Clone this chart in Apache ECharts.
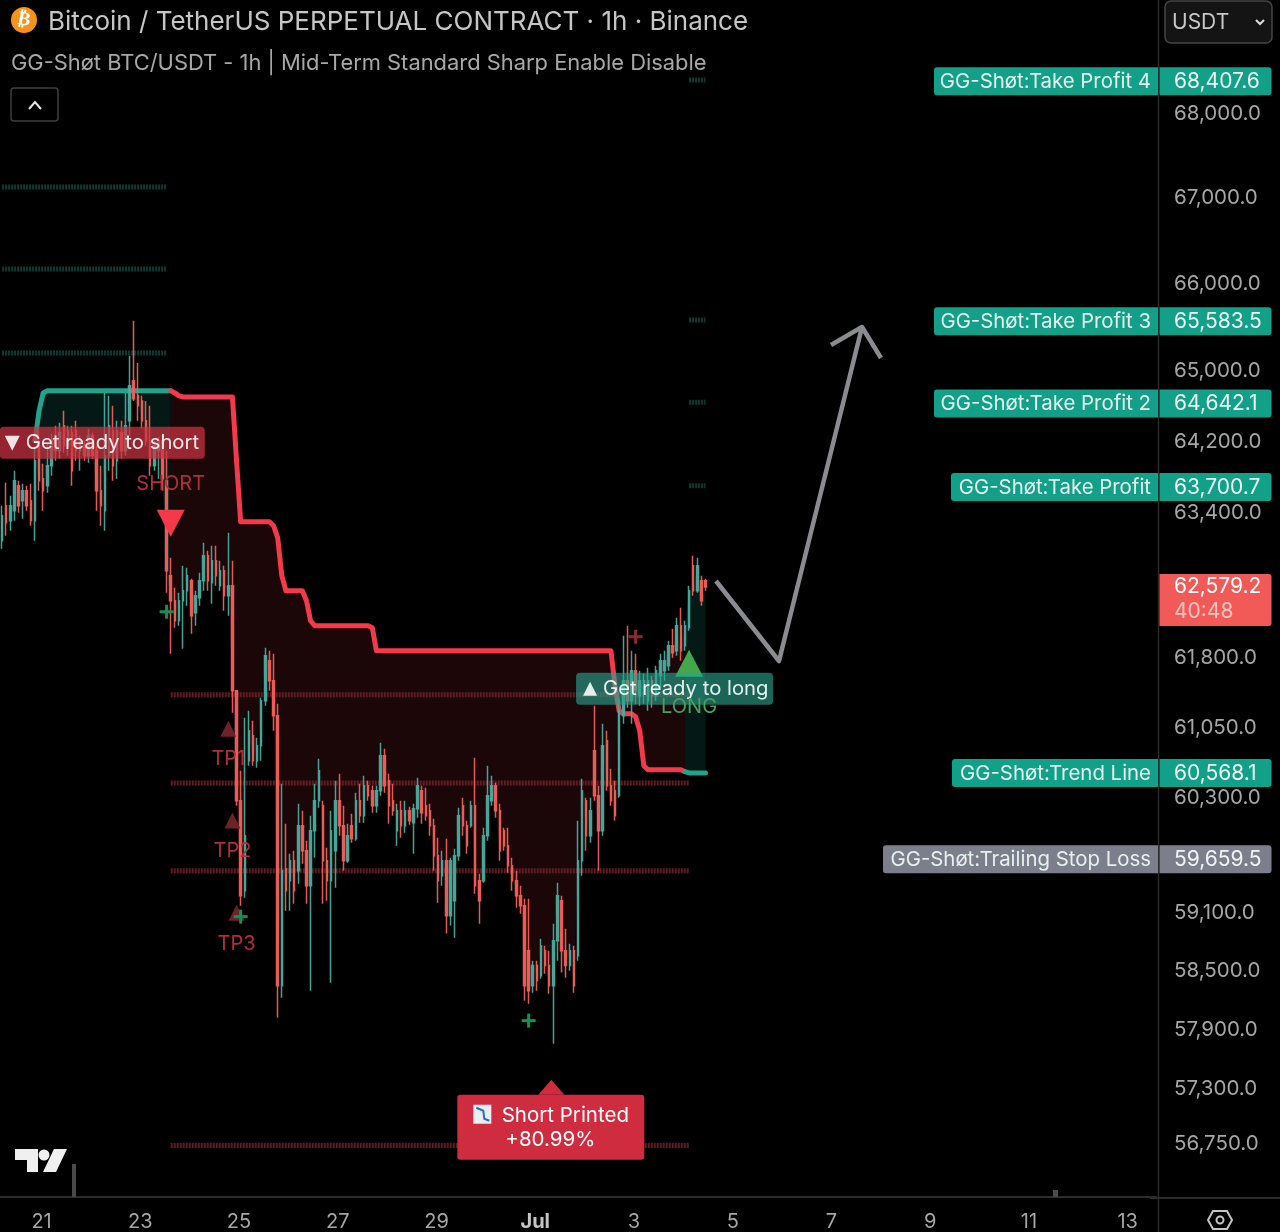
<!DOCTYPE html>
<html><head><meta charset="utf-8">
<style>html,body{margin:0;padding:0;background:#000}#c{width:1280px;height:1232px}</style>
<script src="https://cdn.jsdelivr.net/npm/echarts@6/dist/echarts.min.js"></script>
</head><body><div id="c"></div>
<script>
// ---------- data ----------
const dayTicks = ['21','23','25','27','29','Jul','3','5','7','9','11','13'];
const priceTicks = [68000,67000,66000,65000,64200,63400,61800,61050,60300,59100,58500,57900,57300,56750];
const tagNames = ['GG-Shøt:Take Profit 4','GG-Shøt:Take Profit 3','GG-Shøt:Take Profit 2','GG-Shøt:Take Profit','GG-Shøt:Trend Line','GG-Shøt:Trailing Stop Loss'];
const tagValues = [68407.6,65583.5,64642.1,63700.7,60568.1,59659.5];
const lastPrice = 62579.2;
const countdown = '40:48';
const greenLevels = [67134,66174,65205];
const redLevels = [61405,60461,59535,56730];
const targetLevels = [68407.6,65583.5,64642.1,63700.7];
// [open, close, low, high]
const candles = [
[63089,63367,63000,63478],[63478,63289,63145,63734],[63311,63478,63200,63589],[63422,63757,63311,63869],
[63701,63478,63400,63757],[63533,63645,63333,63723],[63645,63478,63422,63701],[63533,63311,63255,63723],
[63311,63981,63089,64127],[64150,63757,63645,64320],[63779,63645,63422,63947],[63701,63925,63623,64173],
[63925,64207,63813,64286],[64207,64093,63981,64376],[64093,64297,64003,64410],[64376,64150,64071,64545],
[64150,64320,64037,64376],[64297,63869,63701,64376],[64320,64093,63981,64432],[64093,64207,63869,64263],
[64150,64037,63981,64207],[64037,64263,63959,64342],[64263,64037,64003,64297],[64093,63645,63422,64150],
[63645,63478,63255,63925],[63422,64037,63200,64749],[64037,64376,63869,64715],[64320,63925,63757,64602],
[63981,64320,63779,64432],[64297,64093,64003,64432],[64093,64376,64037,64749],[64432,64829,64263,65171],
[64886,64681,64658,65574],[64715,64602,64432,65091],[64658,64432,64342,64715],[64432,64207,64150,64658],
[64207,63925,63813,64602],[63925,64150,63869,64207],[64093,64207,63779,64252],[64207,63779,63645,64263],
[63757,62758,62515,64093],[62703,62427,61848,62901],[62427,62209,62133,62570],[62209,62427,62154,62515],
[62427,62537,61903,62813],[62537,62703,62372,62791],[62648,62263,62067,62670],[62296,62482,62154,62537],
[62460,62648,62372,62736],[62648,62923,62537,63067],[62923,62648,62537,62978],[62626,62868,62394,63034],
[62868,62703,62593,63034],[62593,62758,62537,62868],[62758,62482,62318,62813],[62482,62593,62263,63178],
[62593,61448,61212,62868],[61448,60273,60220,61448],[60273,59275,59172,60592],[59327,59904,59254,61157],
[60698,61018,60645,61233],[60965,60698,60645,61125],[60698,60857,60624,60943],[60857,61340,60698,61372],
[61340,61827,61286,61914],[61773,61556,61448,61881],[61556,61179,61018,61848],[61179,58346,58019,61308],
[58346,59536,58223,60453],[59557,59327,59120,60030],[59432,59641,59120,59714],[59641,59327,59192,59745],
[59536,60009,59400,60241],[60009,59745,59610,60167],[59745,59380,59192,59851],[59380,59956,58295,60115],
[59956,60273,59672,60453],[60273,60592,60199,60719],[60220,59641,59192,60273],[59641,59432,59223,59777],
[59432,59956,58377,60167],[59745,60273,59359,60485],[60273,60009,59904,60560],[60009,59641,59536,60220],
[59641,59904,59620,60030],[60009,59872,59830,60135],[59872,60273,59851,60358],[60273,60115,60041,60453],
[60115,60432,60041,60538],[60432,60326,60273,60485],[60379,60220,60146,60432],[60220,60379,60146,60432],
[60379,60751,60326,60889],[60751,60432,60358,60825],[60485,60220,60030,60560],[60273,60167,60115,60453],
[59956,60167,59798,60241],[60167,60009,59883,60273],[60009,60167,59935,60273],[60167,60062,60020,60209],
[60041,60188,59714,60241],[60188,60432,60094,60517],[60379,60146,60030,60432],[60220,60115,60062,60411],
[60167,60009,59904,60241],[60009,59693,59536,60083],[59693,59432,59202,59883],[59484,59641,59380,59745],
[59641,59068,58882,59872],[59068,59641,58965,59672],[59223,59693,58840,59766],[59693,60115,59641,60199],
[60220,60009,59904,60305],[60009,59798,59714,60062],[60009,60220,59988,60273],[60220,59380,59296,60730],
[59432,59223,58985,59505],[59432,59904,59411,59988],[59904,60326,59851,60645],[60273,60432,60220,60538],
[60432,60167,60094,60464],[60167,59745,59641,60241],[59956,59798,59745,59988],[59798,59589,59515,59988],
[59589,59432,59327,59672],[59432,59275,59151,59536],[59275,59172,59089,59380],[59172,58346,58192,59244],
[58706,58295,58161,59244],[58346,58552,58274,58603],[58552,58398,58295,58603],[58449,58758,58418,58830],
[58706,58552,58469,58758],[58552,58346,58264,58706],[58346,58809,57755,58985],[58809,59275,58603,59411],
[59223,58706,58480,59275],[58706,58552,58428,58933],[58552,58706,58500,58778],[58706,58346,58274,58758],
[58654,59641,58603,60062],[59641,60379,59484,60506],[60273,59904,59745,60305],[59904,60167,59830,60305],
[60804,60326,60273,61286],[60326,59956,59536,60432],[59956,60857,59904,61093],[60911,60432,60379,61018],
[60432,60273,60220,60613],[60379,60115,60062,60485],[60326,61233,60305,61372],[61179,61556,61093,62045],
[61556,61340,61265,62154],[61340,61665,61093,61881],[61665,61448,61308,61848],[61394,61556,61286,61665],
[61448,61556,61308,61632],[61340,61556,61233,61697],[61556,61394,61265,61610],[61394,61665,61340,61719],
[61610,61773,61480,61848],[61665,61773,61556,61881],[61719,61936,61665,61990],[61936,61859,61805,62122],
[61881,62154,61827,62242],[62154,61881,61773,62351],[61936,62154,61881,62209],[62133,62537,62100,62593],
[62813,62537,62482,62923],[62537,62813,62515,62901],[62648,62427,62372,62703],[62648,62579,62537,62670]
];
const trendLine = [null,null,null,null,null,null,null,null,
64207,64545,64749,64772,64772,64772,64772,64772,64772,64772,64772,64772,
64772,64772,64772,64772,64772,64772,64772,64772,64772,64772,64772,64772,
64772,64772,64772,64772,64772,64772,64772,64772,64772,64772,64749,64715,
64703,64703,64703,64703,64703,64703,64703,64703,64703,64703,64703,64703,
64703,63981,63299,63299,63299,63299,63299,63299,63299,63299,63255,63123,
62703,62537,62537,62537,62537,62537,62427,62209,62154,62154,62154,62154,
62154,62154,62154,62154,62154,62154,62154,62154,62154,62154,62133,61881,
61881,61881,61881,61881,61881,61881,61881,61881,61881,61881,61881,61881,
61881,61881,61881,61881,61881,61881,61881,61881,61881,61881,61881,61881,
61881,61881,61881,61881,61881,61881,61881,61881,61881,61881,61881,61881,
61881,61881,61881,61881,61881,61881,61881,61881,61881,61881,61881,61881,
61881,61881,61881,61881,61881,61881,61881,61881,61881,
61502,61233,61200,61200,61200,61168,61018,60645,60602,60602,60602,
60602,60602,60602,60602,60602,60602,60581,60568,60568,60568,60568,60568];
const shortLabelPrice = 64184, shortLabelIdx = 50;
const longLabelPrice = 61470, longLabelIdx = 167;
const printedPrice = 57380, printedIdx = 134;
const signalTexts = [['SHORT',41,63723],['TP1',55,60719],['TP2',56,59745],['TP3',57,58778],['LONG',167,61276]];
const signalTriangles = [['down',41,63289],['tp',55,61029],['tp',56,60052],['tp',57,59088],['up',167,61741]];
const crossMarks = [['g',40,62307],['g',58,59058],['g',128,57989],['r',154,62034]];

// ---------- style ----------
const FONT = 'Inter';
const UP='#4aaa9d', DOWN='#ee605b', TEAL='#1fa38c', RED='#f23a4a';
const CAT_COUNT = 281;
const categories = Array.from({length:CAT_COUNT},(_,i)=>{
  const k=(i-9)/24; return Number.isInteger(k)&&dayTicks[k]?dayTicks[k]:'';
});
const fmt = v => v.toLocaleString('en-US',{minimumFractionDigits:1,maximumFractionDigits:1});
const tagLefts = [934,934,934,951,952,883];
const series = [];
const levelLine = (a,b,v,color)=>({type:'line',data:[[a,v],[b,v]],symbol:'none',silent:true,z:1,
  lineStyle:{color,width:5,type:[2,1],cap:'butt'},animation:false});

// fills
const bands=[[8,41,'#041916'],[41,166,'#1b0608'],[166,171,'#041916']];
series.push({type:'custom',z:0,silent:true,data:bands.map((b,i)=>[i,60000]),
  renderItem(p,api){
    const [a,b,col]=bands[p.dataIndex]; const pts=[];
    for(let i=a;i<=b;i++) pts.push(api.coord([i,trendLine[i]]));
    for(let i=b;i>=a;i--) pts.push(api.coord([i,candles[i][1]]));
    return {type:'polygon',shape:{points:pts},style:{fill:col}};
  }});
// dotted levels
greenLevels.forEach(v=>series.push(levelLine(0,40,v,'#0d3a33')));
redLevels.forEach(v=>series.push(levelLine(41,167,v,'#611d24')));
targetLevels.forEach(v=>series.push(levelLine(167,171,v,'#0d3a33')));
// trend line
const seg=(a,b)=>trendLine.map((v,i)=>i>=a&&i<=b?v:null);
[[8,41,TEAL],[41,166,RED],[166,171,TEAL]].forEach(([a,b,c])=>series.push({type:'line',data:seg(a,b),symbol:'none',z:2,silent:true,
  lineStyle:{color:c,width:5,cap:'round',join:'round'}}));
// candles
series.push({type:'candlestick',data:candles,barWidth:2,z:3,silent:true,
  itemStyle:{color:UP,color0:DOWN,borderColor:UP,borderColor0:DOWN,borderWidth:1.5,opacity:0.95}});
// signals and labels
const txt=(x,y,text,fill,size,extra)=>({type:'text',style:Object.assign({x,y,text,fill,font:`${size}px ${FONT}`,textAlign:'center',textVerticalAlign:'middle'},extra||{})});
series.push({type:'custom',z:5,silent:true,clip:false,data:signalTriangles.map(s=>[s[1],s[2]]),
  renderItem(p,api){
    const s=signalTriangles[p.dataIndex]; const [x,y]=api.coord([s[1],s[2]]);
    if(s[0]==='down') return {type:'polygon',shape:{points:[[x-14,y-13],[x+14,y-13],[x,y+14]]},style:{fill:'#f5384a'}};
    if(s[0]==='up') return {type:'polygon',shape:{points:[[x,y-14],[x+14,y+13],[x-14,y+13]]},style:{fill:'#43a84c'}};
    return {type:'polygon',shape:{points:[[x,y-9],[x+8,y+7],[x-8,y+7]]},style:{fill:'#6b2229'}};
  }});
series.push({type:'custom',z:5,silent:true,clip:false,data:crossMarks.map(s=>[s[1],s[2]]),
  renderItem(p,api){
    const s=crossMarks[p.dataIndex]; const [x,y]=api.coord([s[1],s[2]]);
    const fill=s[0]==='g'?'#149150':'#8c2a32';
    return {type:'group',children:[
      {type:'rect',shape:{x:x-7,y:y-1.5,width:14,height:3},style:{fill}},
      {type:'rect',shape:{x:x-1.5,y:y-7,width:3,height:14},style:{fill}}]};
  }});
series.push({type:'custom',z:6,silent:true,clip:false,data:[[shortLabelIdx,shortLabelPrice],[longLabelIdx,longLabelPrice]],
  renderItem(p,api){
    const isShort=p.dataIndex===0;
    const [cx,y]=api.coord(isShort?[shortLabelIdx,shortLabelPrice]:[longLabelIdx,longLabelPrice]);
    const left=isShort?cx-208:cx-113, w=isShort?205:197;
    const tri=isShort?[[left+5,y-7],[left+20,y-7],[left+12.5,y+8]]:[[left+7,y+7],[left+21,y+7],[left+14,y-7]];
    return {type:'group',children:[
      {type:'rect',shape:{x:left,y:y-16,width:w,height:32,r:4},style:{fill:isShort?'rgba(205,50,65,0.72)':'rgba(40,165,140,0.62)'}},
      {type:'polygon',shape:{points:tri},style:{fill:'rgba(255,255,255,0.88)'}},
      {type:'text',style:{x:left+(isShort?26:27),y,text:isShort?'Get ready to short':'Get ready to long',fill:'rgba(255,255,255,0.9)',font:`20.3px ${FONT}`,textAlign:'left',textVerticalAlign:'middle'}}
    ]};
  }});
series.push({type:'custom',z:7,silent:true,clip:false,data:signalTexts.map(s=>[s[1],s[2]]),
  renderItem(p,api){
    const s=signalTexts[p.dataIndex]; const [x,y]=api.coord([s[1],s[2]]);
    return txt(x,y,s[0],s[0]==='LONG'?'#4f9e5b':'#b02f3a',20);
  }});
// printed box
series.push({type:'custom',z:8,silent:true,clip:false,data:[[printedIdx,printedPrice]],
  renderItem(p,api){
    const [x,y]=api.coord([printedIdx,printedPrice]);
    const L=x-96;
    return {type:'group',children:[
      {type:'polygon',shape:{points:[[x-2,y-1],[x+11,y+14],[x-15,y+14]]},style:{fill:'#cf2c40'}},
      {type:'rect',shape:{x:L,y:y+14,width:187,height:65,r:3},style:{fill:'#cf2c40'}},
      {type:'rect',shape:{x:L+16,y:y+24,width:18,height:19},style:{fill:'#e8eef4'}},
      {type:'polyline',shape:{points:[[L+19,y+27],[L+26,y+30],[L+27,y+38],[L+32,y+40]]},style:{stroke:'#2f6db0',lineWidth:2,fill:null}},
      txt(L+108,y+35,'Short Printed','#fff',20.5),
      txt(L+93,y+59,'+80.99%','#fff',20.5)
    ]};
  }});
// axis tags
series.push({type:'custom',z:9,silent:true,clip:false,data:tagValues.map(v=>[0,v]),
  renderItem(p,api){
    const i=p.dataIndex; const y=api.coord([0,tagValues[i]])[1]+(i<4?1.2:0.2);
    const col=i===5?'#7c7e8b':'#12a088'; const L=tagLefts[i];
    return {type:'group',children:[
      {type:'rect',shape:{x:L,y:y-14,width:1158-L,height:28,r:[3,0,0,3]},style:{fill:col}},
      {type:'rect',shape:{x:1159.5,y:y-14,width:112,height:28,r:[0,3,3,0]},style:{fill:col}},
      {type:'text',style:{x:1151,y:y+0.5,text:tagNames[i],fill:'#e4f2ee',font:`20.4px ${FONT}`,textAlign:'right',textVerticalAlign:'middle'}},
      {type:'text',style:{x:1174,y:y+0.5,text:fmt(tagValues[i]),fill:'#eef6f4',font:`21px ${FONT}`,textAlign:'left',textVerticalAlign:'middle'}}
    ]};
  }});
series.push({type:'custom',z:9,silent:true,clip:false,data:[[171,lastPrice]],
  renderItem(p,api){
    const y=api.coord([171,lastPrice])[1];
    return {type:'group',children:[
      {type:'rect',shape:{x:1159.5,y:y-13,width:112,height:52,r:[0,3,3,0]},style:{fill:'#f15a57'}},
      {type:'text',style:{x:1174,y:y,text:fmt(lastPrice),fill:'#fff',font:`21px ${FONT}`,textAlign:'left',textVerticalAlign:'middle'}},
      {type:'text',style:{x:1174,y:y+24.5,text:countdown,fill:'#f9c4c0',font:`21px ${FONT}`,textAlign:'left',textVerticalAlign:'middle'}}
    ]};
  }});

const G='#8b8b92';
const chart=echarts.init(document.getElementById('c'),null,{renderer:'canvas',width:1280,height:1232});
chart.setOption({
  backgroundColor:'#000',animation:false,
  grid:{left:-0.5,top:1,width:1156.5,height:1197,containLabel:false},
  xAxis:{type:'category',data:categories,boundaryGap:true,
    axisLine:{show:true,lineStyle:{color:'#2b2b2b',width:2}},axisTick:{show:false},splitLine:{show:false},
    axisLabel:{interval:i=>categories[i]!=='',margin:15,padding:[0,0,0,5],color:'#a6a6a6',fontFamily:FONT,fontSize:20,hideOverlap:false,
      formatter:v=>v==='Jul'?'{b|Jul}':v,rich:{b:{fontWeight:'bold',color:'#c4c4c4',fontFamily:FONT,fontSize:20}}}},
  yAxis:{type:'log',logBase:10,position:'right',min:56220,max:69363,scale:true,
    axisLine:{show:false},axisTick:{show:false},splitLine:{show:false},minorTick:{show:false},minorSplitLine:{show:false},
    axisLabel:{customValues:priceTicks,margin:18,padding:[3,0,0,0],align:'left',color:'#a6a6a6',fontFamily:FONT,fontSize:20.5,showMinLabel:true,showMaxLabel:true,hideOverlap:false,
      formatter:v=>fmt(+v)}},
  series,
  graphic:[
    {type:'line',z:1,shape:{x1:1158.5,y1:0,x2:1158.5,y2:1232},style:{stroke:'#2b2b2b',lineWidth:1.5}},
    {type:'line',z:1,shape:{x1:1150,y1:1198,x2:1280,y2:1198},style:{stroke:'#2b2b2b',lineWidth:2}},
    {type:'circle',shape:{cx:24,cy:20,r:13},style:{fill:'#f7931a'}},
    {type:'text',style:{x:24,y:20,text:'₿',fill:'#fff',font:'bold 19px "DejaVu Sans"',textAlign:'center',textVerticalAlign:'middle'},rotation:-0.2,originX:24,originY:20},
    {type:'text',style:{x:48,y:22,text:'Bitcoin / TetherUS PERPETUAL CONTRACT · 1h · Binance',fill:'#c6c6c6',font:`26px ${FONT}`,textVerticalAlign:'middle'}},
    {type:'text',style:{x:11,y:63,text:'GG-Shøt BTC/USDT - 1h | Mid-Term Standard Sharp Enable Disable',fill:'#a8a8a8',font:`21.9px ${FONT}`,textVerticalAlign:'middle'}},
    {type:'rect',shape:{x:11,y:88,width:47,height:33,r:3},style:{fill:'#000',stroke:'#3e3e3e',lineWidth:1.5}},
    {type:'polyline',shape:{points:[[29,109],[35,102],[41,109]]},style:{stroke:'#e8e8e8',lineWidth:2,fill:null}},
    {type:'rect',shape:{x:1165,y:1,width:107,height:42,r:6},style:{fill:'#141414',stroke:'#444',lineWidth:1.5}},
    {type:'text',style:{x:1172,y:23,text:'USDT',fill:'#c8c8c8',font:`21px ${FONT}`,textVerticalAlign:'middle'}},
    {type:'polyline',shape:{points:[[1256,20],[1260,24],[1264,20]]},style:{stroke:'#ddd',lineWidth:2,fill:null}},
    // drawn arrow
    {type:'polyline',z:20,shape:{points:[[716,581],[779,661],[862,327]]},style:{stroke:G,lineWidth:4.5,fill:null,lineJoin:'round'}},
    {type:'polyline',z:20,shape:{points:[[831,345],[862,327],[881,358]]},style:{stroke:G,lineWidth:4.5,fill:null,lineJoin:'round'}},
    // logo
    {type:'polygon',z:20,shape:{points:[[15,1149],[38,1149],[38,1172],[27,1172],[27,1160],[15,1160]]},style:{fill:'#f0f0f0'}},
    {type:'circle',z:20,shape:{cx:44,cy:1155,r:5.5},style:{fill:'#f0f0f0'}},
    {type:'polygon',z:20,shape:{points:[[54,1149],[67,1149],[56,1172],[43,1172]]},style:{fill:'#f0f0f0'}},
    {type:'rect',z:20,shape:{x:72,y:1164,width:4,height:33},style:{fill:'#4a4a4a'}},
    {type:'rect',z:20,shape:{x:1053,y:1190,width:5,height:7},style:{fill:'#4a4a4a'}},
    {type:'polygon',z:20,shape:{points:[[1213,1211],[1227,1211],[1232,1220],[1227,1229],[1213,1229],[1208,1220]]},style:{fill:'none',stroke:'#c4c4c4',lineWidth:2}},
    {type:'circle',z:20,shape:{cx:1220,cy:1220,r:3.5},style:{fill:'none',stroke:'#c4c4c4',lineWidth:2}}
  ]
});
</script></body></html>
